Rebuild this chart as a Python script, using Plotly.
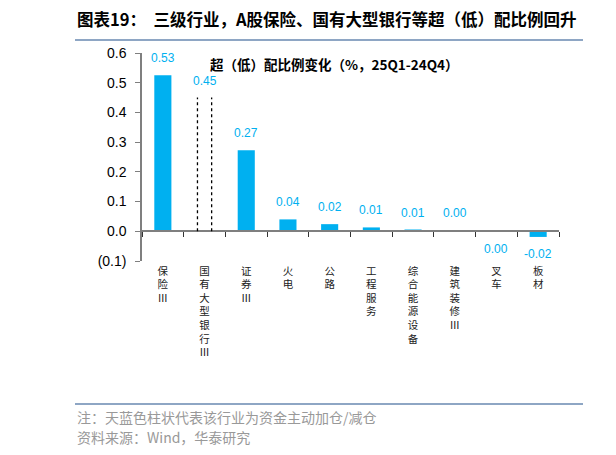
import plotly.graph_objects as go

# ---------------- data ----------------
categories = ["保险Ⅲ", "国有大型银行Ⅲ", "证券Ⅲ", "火电", "公路", "工程服务",
              "综合能源设备", "建筑装修Ⅲ", "叉车", "板材"]
values = [0.525, 0.45, 0.273, 0.040, 0.024, 0.013, 0.006, 0.004, -0.001, -0.019]
value_labels = ["0.53", "0.45", "0.27", "0.04", "0.02", "0.01", "0.01", "0.00", "0.00", "-0.02"]
active_flow = [True, False, True, True, True, True, True, True, True, True]
y_tickvals = [-0.1, 0.0, 0.1, 0.2, 0.3, 0.4, 0.5, 0.6]
y_ticktext = ["(0.1)", "0.0", "0.1", "0.2", "0.3", "0.4", "0.5", "0.6"]

title_text = "图表19：  三级行业，A股保险、国有大型银行等超（低）配比例回升"
inner_title = "超（低）配比例变化（%，25Q1-24Q4）"
note_text = "注：天蓝色柱状代表该行业为资金主动加仓/减仓"
source_text = "资料来源：Wind，华泰研究"

# ---------------- layout geometry ----------------
# page body has an 8px default margin, so the figure is drawn offset by 8px
OFF = 8
W, H = 616, 455
PLOT_L, PLOT_R, PLOT_T, PLOT_B = 142, 559, 53, 261   # in window pixels
L = PLOT_L - OFF
T = PLOT_T - OFF
R = W - (PLOT_R - OFF)
B = H - (PLOT_B - OFF)
PW, PH = W - L - R, H - T - B
YMIN, YMAX = -0.1, 0.6

def px_x(px):
    return (px - OFF - L) / PW

def px_y(py):
    return (H - (py - OFF) - B) / PH

BLUE = "#00B0F0"
AXIS = "#7F7F7F"

fig = go.Figure()

bar_colors = [BLUE if a else "rgba(0,0,0,0)" for a in active_flow]
fig.add_trace(go.Bar(x=categories, y=values, marker=dict(color=bar_colors, line=dict(width=0)),
                     width=0.41, hoverinfo="x+y", showlegend=False))
# invisible trace for the zero-line axis with ticks
fig.add_trace(go.Bar(x=categories, y=[0] * len(categories), xaxis="x2",
                     marker=dict(color="rgba(0,0,0,0)"), showlegend=False, hoverinfo="skip"))

shapes = []
annotations = []
for i, (c, v, lab, a) in enumerate(zip(categories, values, value_labels, active_flow)):
    if not a:
        for dx in (-0.17, 0.17):
            shapes.append(dict(type="line", xref="x", yref="y", x0=i + dx, x1=i + dx, y0=0, y1=v,
                               line=dict(color="black", width=1.3, dash="dot")))
    annotations.append(dict(x=c, y=v, xref="x", yref="y", text=lab, showarrow=False,
                            yanchor="bottom" if v >= 0 else "top",
                            yshift=8 if v >= 0 else -8,
                            font=dict(family="Liberation Sans, Arial", size=12, color=BLUE)))

# inner title
annotations.append(dict(x=px_x(208), y=px_y(64), xref="paper", yref="paper", xanchor="left",
                        yanchor="middle", text="<b>" + inner_title + "</b>", showarrow=False,
                        font=dict(family="Noto Sans CJK SC", size=13.5, color="black")))
# main title
annotations.append(dict(x=px_x(75), y=px_y(19), xref="paper", yref="paper", xanchor="left",
                        yanchor="middle", text="<b>" + title_text + "</b>", showarrow=False,
                        font=dict(family="Noto Sans CJK SC", size=16.5, color="black")))
# footer
annotations.append(dict(x=px_x(75), y=px_y(417), xref="paper", yref="paper", xanchor="left",
                        yanchor="middle", text=note_text, showarrow=False,
                        font=dict(family="Noto Sans CJK SC", size=14, color="#999999")))
annotations.append(dict(x=px_x(75), y=px_y(437), xref="paper", yref="paper", xanchor="left",
                        yanchor="middle", text=source_text, showarrow=False,
                        font=dict(family="Noto Sans CJK SC", size=14, color="#999999")))

# header / footer rules
for py in (40, 404):
    shapes.append(dict(type="line", xref="paper", yref="paper", x0=px_x(75), x1=px_x(583),
                       y0=px_y(py), y1=px_y(py), line=dict(color="#8EA6C4", width=2)))
    shapes.append(dict(type="line", xref="paper", yref="paper", x0=px_x(609), x1=px_x(630),
                       y0=px_y(py), y1=px_y(py), line=dict(color="#8EA6C4", width=2)))

def vertical(label):
    return "<br>".join(list(label))

fig.update_layout(
    width=W, height=H,
    margin=dict(l=L, r=R, t=T, b=B),
    paper_bgcolor="white", plot_bgcolor="white",
    showlegend=False,
    barmode="overlay",
    xaxis=dict(type="category", range=[-0.5, len(categories) - 0.5],
               tickmode="array", tickvals=categories, ticktext=[vertical(c) for c in categories],
               tickfont=dict(family="Noto Sans CJK SC", size=10.5, color="#222222"),
               showline=False, ticks="", showgrid=False, zeroline=False, ticklabelstandoff=2),
    xaxis2=dict(type="category", overlaying="x", anchor="free", position=(0 - YMIN) / (YMAX - YMIN),
                range=[-0.5, len(categories) - 0.5], showticklabels=False,
                showline=True, linecolor=AXIS, linewidth=1.5,
                ticks="outside", tickson="boundaries", ticklen=5, tickcolor="#333333", tickwidth=1.2,
                showgrid=False, zeroline=False),
    yaxis=dict(range=[YMIN, YMAX], tickmode="array", tickvals=y_tickvals, ticktext=y_ticktext,
               tickfont=dict(family="Liberation Sans, Arial", size=14, color="black"),
               showline=True, linecolor=AXIS, linewidth=1.5, ticks="outside", ticklen=5,
               tickcolor=AXIS, showgrid=False, zeroline=False, ticklabelstandoff=6),
    shapes=shapes,
    annotations=annotations,
)

fig.write_html("out.html")
